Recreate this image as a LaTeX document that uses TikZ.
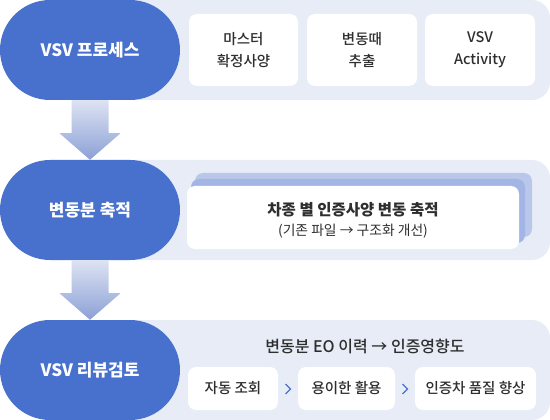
\documentclass[tikz,border=0pt]{standalone}
\usepackage{fontspec}
\setmainfont{Noto Sans CJK KR}
\newfontfamily\krmed{Noto Sans CJK KR Medium}
\usetikzlibrary{positioning, calc}
\definecolor{PillBlue}{HTML}{4771CC}
\definecolor{PanelBg}{HTML}{E7ECF7}
\definecolor{CardBack}{HTML}{B9C7EB}
\definecolor{CardMid}{HTML}{A3B5E4}
\definecolor{ArrowTop}{HTML}{DDE3F3}
\definecolor{ArrowBot}{HTML}{8CA0D5}
\definecolor{TextGray}{HTML}{2E2E2E}
\definecolor{ChevBlue}{HTML}{4A72D0}

\begin{document}
\begin{tikzpicture}[x=1pt, y=-1pt,
    pill/.style={fill=PillBlue, rounded corners=50pt, minimum width=180pt, minimum height=100pt,
        inner sep=0pt, text=white, font=\bfseries\fontsize{17}{20}\selectfont},
    whitebox/.style={fill=white, rounded corners=8pt, inner sep=0pt, text=TextGray,
        align=center, font=\krmed\fontsize{14.5}{22}\selectfont},
    chev/.style={draw=ChevBlue, line width=1.1pt}]
    \useasboundingbox (0,0) rectangle (550,420);

    % panels behind the pills
    \fill[PanelBg, rounded corners=18pt] (90,0) rectangle (550,100);
    \fill[PanelBg, rounded corners=18pt] (90,160) rectangle (550,260);
    \fill[PanelBg, rounded corners=18pt] (90,320) rectangle (550,420);

    % row 1
    \node[whitebox, minimum width=109pt, minimum height=72pt] (master) at (243.5,50) {마스터\\확정사양};
    \node[whitebox, minimum width=110pt, minimum height=72pt] (extract) at (362,50) {변동때\\추출};
    \node[whitebox, minimum width=110pt, minimum height=72pt] (activity) at (480,50) {VSV\\Activity};

    % row 2, stacked cards
    \fill[CardBack, rounded corners=8pt] (195,173) rectangle (532,237);
    \fill[CardMid, rounded corners=8pt] (191,179) rectangle (525,243);
    \node[whitebox, minimum width=332pt, minimum height=63pt] (stack) at (353,217.5) {};
    \node[text=TextGray, font=\bfseries\fontsize{15.5}{18}\selectfont] (stacktitle) at (353,209.5) {차종 별 인증사양 변동 축적};
    \node[text=TextGray, font=\fontsize{13.8}{16}\selectfont, below=0pt of stacktitle] (stacksub) {(기존 파일 → 구조화 개선)};

    % row 3
    \node[text=TextGray, font=\krmed\fontsize{16}{18}\selectfont] (eotitle) at (365,346) {변동분 EO 이력 → 인증영향도};
    \node[whitebox, minimum width=90pt, minimum height=43pt] (lookup) at (233,388.5) {자동 조회};
    \node[whitebox, minimum width=97pt, minimum height=43pt] (use) at (346.5,388.5) {용이한 활용};
    \node[whitebox, minimum width=121pt, minimum height=43pt] (quality) at (475.5,388.5) {인증차 품질 향상};
    \draw[chev] ($(lookup.east)!0.5!(use.west)+(-2.5,-4.5)$) -- ++(5,5) -- ++(-5,5);
    \draw[chev] ($(use.east)!0.5!(quality.west)+(-2.5,-4.5)$) -- ++(5,5) -- ++(-5,5);

    % pills
    \node[pill] (proc) at (90,50) {VSV 프로세스};
    \node[pill] (accum) at (90,210) {변동분 축적};
    \node[pill] (review) at (90,370) {VSV 리뷰검토};

    % block arrows between pills
    \shade[top color=ArrowTop, bottom color=ArrowBot]
        ($(proc.south)+(-18.5,0)$) -- ($(proc.south)+(18.5,0)$) -- ($(proc.south)+(18.5,33)$)
        -- ($(proc.south)+(30.5,33)$) -- (accum.north) -- ($(proc.south)+(-30.5,33)$)
        -- ($(proc.south)+(-18.5,33)$) -- cycle;
    \shade[top color=ArrowTop, bottom color=ArrowBot]
        ($(accum.south)+(-18.5,0)$) -- ($(accum.south)+(18.5,0)$) -- ($(accum.south)+(18.5,33)$)
        -- ($(accum.south)+(30.5,33)$) -- (review.north) -- ($(accum.south)+(-30.5,33)$)
        -- ($(accum.south)+(-18.5,33)$) -- cycle;
\end{tikzpicture}
\end{document}
